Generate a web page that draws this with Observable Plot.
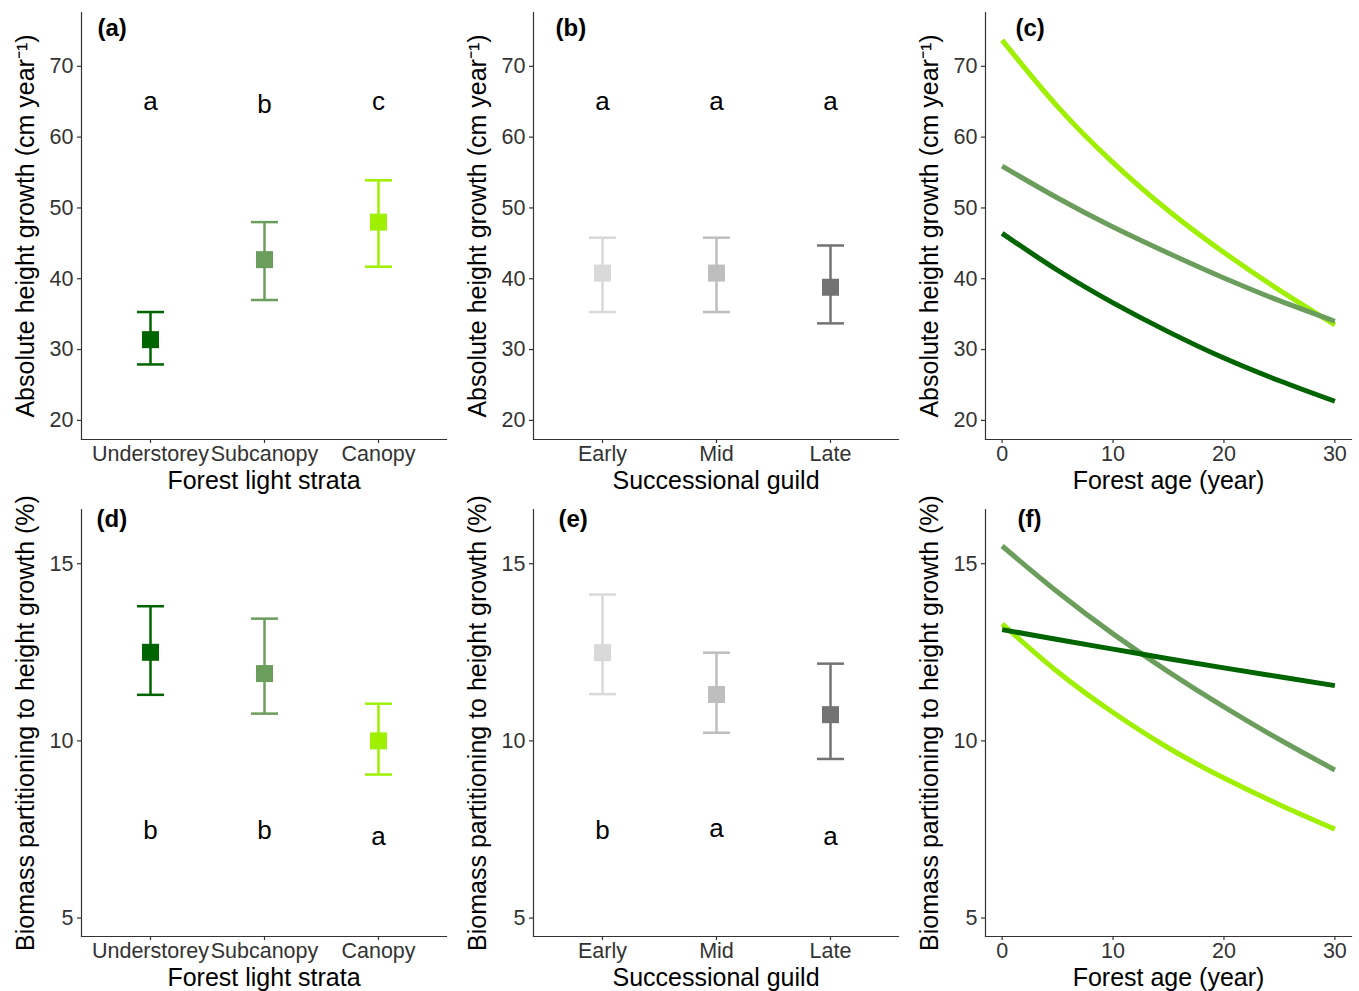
<!DOCTYPE html>
<html><head><meta charset="utf-8">
<script src="https://cdn.jsdelivr.net/npm/d3@7"></script>
<script src="https://cdn.jsdelivr.net/npm/@observablehq/plot@0.6"></script>
<style>
body{margin:0;background:#fff;}
#fig{position:relative;width:1359px;height:991px;background:#fff;}
#fig svg{position:absolute;}
</style></head><body><div id="fig"></div>
<script>
const FONT = '"Liberation Sans", Arial, Helvetica, sans-serif';

// categories
const strata = ["Understorey", "Subcanopy", "Canopy"];
const strataColors = ["#006400", "#6b9e5c", "#9ef000"];
const guilds = ["Early", "Mid", "Late"];
const guildColors = ["#d9d9d9", "#bebebe", "#737373"];

// (a) absolute height growth by light strata
const aMean = [31.4, 42.7, 48.0];
const aLower = [27.9, 37.0, 41.7];
const aUpper = [35.3, 48.0, 53.9];
const aLetters = ["a", "b", "c"];
const aLetterY = [63.8, 63.45, 63.8];

// (b) absolute height growth by successional guild
const bMean = [40.8, 40.8, 38.8];
const bLower = [35.3, 35.3, 33.7];
const bUpper = [45.8, 45.8, 44.7];
const bLetters = ["a", "a", "a"];
const bLetterY = [63.8, 63.8, 63.8];

// (d) biomass partitioning by light strata
const dMean = [12.5, 11.9, 10.0];
const dLower = [11.3, 10.77, 9.05];
const dUpper = [13.8, 13.45, 11.05];
const dLetters = ["b", "b", "a"];
const dLetterY = [7.23, 7.23, 7.07];

// (e) biomass partitioning by successional guild
const eMean = [12.49, 11.31, 10.74];
const eLower = [11.32, 10.23, 9.49];
const eUpper = [14.13, 12.49, 12.18];
const eLetters = ["b", "a", "a"];
const eLetterY = [7.23, 7.3, 7.06];

// (c), (f) curves vs forest age
const ages = [0, 5, 10, 15, 20, 25, 30];
const cCanopy = [73.7, 64.3, 56.4, 49.6, 43.7, 38.4, 33.5];
const cSubcanopy = [55.9, 51.4, 47.3, 43.6, 40.1, 36.9, 34.0];
const cUnderstorey = [46.4, 41.2, 36.6, 32.5, 28.8, 25.6, 22.7];
const fCanopy = [13.3, 11.95, 10.8, 9.8, 8.95, 8.2, 7.51];
const fSubcanopy = [15.5, 14.2, 13.02, 11.95, 10.96, 10.04, 9.18];
const fUnderstorey = [13.14, 12.86, 12.59, 12.32, 12.06, 11.81, 11.56];

// axis texts
const yTitleTop = "Absolute height growth (cm year\u207B\u00B9)";
const yTitleBottom = "Biomass partitioning to height growth (%)";
const xTitleStrata = "Forest light strata";
const xTitleGuild = "Successional guild";
const xTitleAge = "Forest age (year)";
const yTicksTop = [20, 30, 40, 50, 60, 70];
const yTicksBottom = [5, 10, 15];
const xTicksAge = [0, 10, 20, 30];
const yDomainTop = [17.3, 77.6];
const yDomainBottom = [4.48, 16.53];
const xDomainAge = [-1.5, 31.5];

const fig = document.getElementById("fig");
const AX = "#333333";
// horizontal error-bar cap drawn as a dot symbol
const capSymbol = {draw(ctx) { ctx.moveTo(-13.5, 0); ctx.lineTo(13.5, 0); }};

function commonMarks({yTicks, yLabel, xLabel, tag, tagDx, tagDy, xTicks}) {
  return [
    Plot.frame({anchor: "left", stroke: AX, strokeWidth: 1.2}),
    Plot.frame({anchor: "bottom", stroke: AX, strokeWidth: 1.2}),
    Plot.axisY({ticks: yTicks, tickSize: 4, tickPadding: 4, fontSize: 21.5, color: AX, label: null, strokeWidth: 1.2}),
    Plot.axisX({ticks: xTicks, tickSize: 4, tickPadding: 2, fontSize: 21.5, color: AX, label: null, strokeWidth: 1.2}),
    Plot.text([yLabel], {text: d => d, frameAnchor: "left", textAnchor: "middle", rotate: -90, lineAnchor: "bottom", dx: -47.5, fontSize: 25, fill: "black"}),
    Plot.text([xLabel], {text: d => d, frameAnchor: "bottom", textAnchor: "middle", lineAnchor: "bottom", dy: 49, fontSize: 25, fill: "black"}),
    Plot.text([tag], {text: d => d, frameAnchor: "top-left", textAnchor: "start", lineAnchor: "middle", dx: tagDx, dy: tagDy, fontSize: 24, fontWeight: "bold", fill: "black"})
  ];
}

function catPanel(o) {
  const rows = o.cats.map((c, i) => ({cat: c, mean: o.mean[i], lo: o.lower[i], hi: o.upper[i], color: o.colors[i], letter: o.letters[i], ly: o.letterY[i]}));
  const svg = Plot.plot({
    width: 453, height: o.height,
    marginTop: o.mt, marginBottom: o.mb, marginLeft: o.ml, marginRight: o.mr,
    style: {fontFamily: FONT, background: "white"},
    x: {type: "point", domain: o.cats, padding: 0.6, label: null},
    y: {domain: o.yDomain, label: null},
    marks: [
      ...commonMarks({yTicks: o.yTicks, yLabel: o.yLabel, xLabel: o.xLabel, tag: o.tag, tagDx: o.tagDx, tagDy: o.tagDy, xTicks: o.cats}),
      Plot.ruleX(rows, {x: "cat", y1: "lo", y2: "hi", stroke: "color", strokeWidth: 2.5}),
      Plot.dot(rows, {x: "cat", y: "lo", symbol: capSymbol, r: 3, fill: "none", stroke: "color", strokeWidth: 2.5}),
      Plot.dot(rows, {x: "cat", y: "hi", symbol: capSymbol, r: 3, fill: "none", stroke: "color", strokeWidth: 2.5}),
      Plot.dot(rows, {x: "cat", y: "mean", symbol: "square", r: 9.6, fill: "color", stroke: null}),
      Plot.text(rows, {x: "cat", y: "ly", text: "letter", lineAnchor: "bottom", fontSize: 26, fill: "black"})
    ]
  });
  svg.style.left = o.left + "px";
  svg.style.top = o.top + "px";
  fig.appendChild(svg);
}

function linePanel(o) {
  const rows = [];
  o.series.forEach((s, k) => ages.forEach((a, i) => rows.push({age: a, v: s[i], key: strata[o.order[k]], color: strataColors[o.order[k]]})));
  const svg = Plot.plot({
    width: 453, height: o.height,
    marginTop: o.mt, marginBottom: o.mb, marginLeft: o.ml, marginRight: o.mr,
    style: {fontFamily: FONT, background: "white"},
    x: {domain: xDomainAge, label: null},
    y: {domain: o.yDomain, label: null},
    marks: [
      ...commonMarks({yTicks: o.yTicks, yLabel: o.yLabel, xLabel: xTitleAge, tag: o.tag, tagDx: o.tagDx, tagDy: o.tagDy, xTicks: xTicksAge}),
      Plot.line(rows, {x: "age", y: "v", z: "key", stroke: "color", strokeWidth: 5, curve: "natural", strokeLinecap: "butt"})
    ]
  });
  svg.style.left = o.left + "px";
  svg.style.top = o.top + "px";
  fig.appendChild(svg);
}

const TOP = {top: 0, height: 495, mt: 12, mb: 56, yDomain: yDomainTop, yTicks: yTicksTop, yLabel: yTitleTop, tagDy: 16};
const BOT = {top: 495, height: 496, mt: 14, mb: 55, yDomain: yDomainBottom, yTicks: yTicksBottom, yLabel: yTitleBottom, tagDy: 10};

catPanel({...TOP, left: 0, ml: 81, mr: 7, cats: strata, colors: strataColors, mean: aMean, lower: aLower, upper: aUpper, letters: aLetters, letterY: aLetterY, xLabel: xTitleStrata, tag: "(a)", tagDx: 16});
catPanel({...TOP, left: 453, ml: 80, mr: 8, cats: guilds, colors: guildColors, mean: bMean, lower: bLower, upper: bUpper, letters: bLetters, letterY: bLetterY, xLabel: xTitleGuild, tag: "(b)", tagDx: 22});
linePanel({...TOP, left: 906, ml: 79, mr: 8, series: [cCanopy, cSubcanopy, cUnderstorey], order: [2, 1, 0], tag: "(c)", tagDx: 30});
catPanel({...BOT, left: 0, ml: 81, mr: 7, cats: strata, colors: strataColors, mean: dMean, lower: dLower, upper: dUpper, letters: dLetters, letterY: dLetterY, xLabel: xTitleStrata, tag: "(d)", tagDx: 15});
catPanel({...BOT, left: 453, ml: 80, mr: 8, cats: guilds, colors: guildColors, mean: eMean, lower: eLower, upper: eUpper, letters: eLetters, letterY: eLetterY, xLabel: xTitleGuild, tag: "(e)", tagDx: 25});
linePanel({...BOT, left: 906, ml: 79, mr: 8, series: [fCanopy, fSubcanopy, fUnderstorey], order: [2, 1, 0], tag: "(f)", tagDx: 32});
</script></body></html>
